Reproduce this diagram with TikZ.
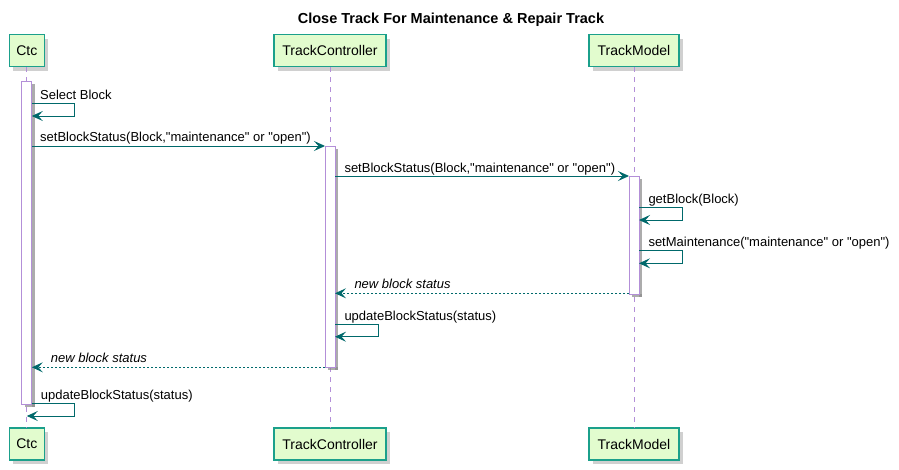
\documentclass[tikz,border=0pt]{standalone}
\usepackage{fontspec}
\setmainfont{Liberation Sans}[Ligatures=TeXOff]
\usetikzlibrary{arrows.meta,shadows}
\definecolor{boxfill}{HTML}{E2FCCE}
\definecolor{boxline}{HTML}{1BA08B}
\definecolor{arrowc}{HTML}{00696B}
\definecolor{lifec}{HTML}{B38FD8}
\definecolor{shadowc}{HTML}{8A8A8A}
\tikzset{
 pbox/.style={draw=boxline, line width=1.2pt, fill=boxfill, minimum height=32pt, inner sep=0pt,
   font=\fontsize{14}{16}\selectfont,
   drop shadow={shadow xshift=4pt, shadow yshift=-4pt, fill=shadowc, opacity=0.4}},
 life/.style={draw=lifec, line width=0.8pt, dash pattern=on 5pt off 5pt},
 actbar/.style={draw=lifec, line width=1pt, fill=white},
 actshadow/.style={fill=shadowc, opacity=0.7},
 msg/.style={draw=arrowc, line width=1pt, -{Stealth[length=11pt,width=10pt,inset=4.5pt]}},
 ret/.style={msg, dash pattern=on 2pt off 2pt},
 lbl/.style={anchor=base west, inner sep=0pt, font=\fontsize{13}{15}\selectfont},
 ilbl/.style={anchor=base west, inner sep=0pt, font=\fontsize{13}{15}\selectfont\itshape},
}
\begin{document}
\begin{tikzpicture}[x=1pt,y=-1pt]
\useasboundingbox[fill=white] (0,0) rectangle (899,469);
\node[font=\fontsize{14.5}{17}\selectfont\bfseries] (title) at (451,20) {Close Track For Maintenance \& Repair Track};

% participants
\node[pbox, minimum width=35pt] (ctcT) at (26.8,50.5) {Ctc};
\node[pbox, minimum width=112pt] (tcT) at (330,50.5) {TrackController};
\node[pbox, minimum width=90pt] (tmT) at (634,50.5) {TrackModel};
\node[pbox, minimum width=35pt] (ctcB) at (26.8,444) {Ctc};
\node[pbox, minimum width=112pt] (tcB) at (330,444) {TrackController};
\node[pbox, minimum width=90pt] (tmB) at (634,444) {TrackModel};

% lifelines
\draw[life] (ctcT.south) -- (ctcB.north);
\draw[life] (tcT.south) -- (tcB.north);
\draw[life] (tmT.south) -- (tmB.north);

% activations
\fill[actshadow] (31.8,84) rectangle (34.8,407);
\fill[actshadow] (24.8,404) rectangle (34.8,407);
\draw[actbar] (21.8,81) rectangle (31.8,404);
\fill[actshadow] (335,149) rectangle (338,370);
\fill[actshadow] (328,367) rectangle (338,370);
\draw[actbar] (325,146) rectangle (335,367);
\fill[actshadow] (639,179) rectangle (642,297);
\fill[actshadow] (632,294) rectangle (642,297);
\draw[actbar] (629,176) rectangle (639,294);

% coordinates
\coordinate (a1) at (31.8,103.3); \coordinate (b1) at (74.7,103.3);
\coordinate (c1) at (74.7,116);   \coordinate (d1) at (31.8,116);
\coordinate (a2) at (31.8,146);   \coordinate (b2) at (325,146);
\coordinate (a3) at (335,176);    \coordinate (b3) at (629,176);
\coordinate (a4) at (639,207.7);  \coordinate (b4) at (682.7,207.7);
\coordinate (c4) at (682.7,220);  \coordinate (d4) at (639,220);
\coordinate (a5) at (639,250.7);  \coordinate (b5) at (682.7,250.7);
\coordinate (c5) at (682.7,263.3);\coordinate (d5) at (639,263.3);
\coordinate (a6) at (629,293.3);  \coordinate (b6) at (335,293.3);
\coordinate (a7) at (335,324);    \coordinate (b7) at (378,324);
\coordinate (c7) at (378,336.7);  \coordinate (d7) at (335,336.7);
\coordinate (a8) at (325,367.3);  \coordinate (b8) at (31.8,367.3);
\coordinate (a9) at (31.8,403.3); \coordinate (b9) at (74.7,403.3);
\coordinate (c9) at (74.7,416);   \coordinate (d9) at (26.8,416);

% messages
\draw[msg] (a1) -- (b1) -- (c1) -- (d1);
\node[lbl] (l1) at (40,99.3) {Select Block};
\draw[msg] (a2) -- (b2);
\node[lbl] (l2) at (40,141) {setBlockStatus(Block,"maintenance" or "open")};
\draw[msg] (a3) -- (b3);
\node[lbl] (l3) at (344.3,172) {setBlockStatus(Block,"maintenance" or "open")};
\draw[msg] (a4) -- (b4) -- (c4) -- (d4);
\node[lbl] (l4) at (648.3,203.3) {getBlock(Block)};
\draw[msg] (a5) -- (b5) -- (c5) -- (d5);
\node[lbl] (l5) at (648.3,246.7) {setMaintenance("maintenance" or "open")};
\draw[ret] (a6) -- (b6);
\node[ilbl] (l6) at (354.3,288.7) {new block status};
\draw[msg] (a7) -- (b7) -- (c7) -- (d7);
\node[lbl] (l7) at (344.3,320) {updateBlockStatus(status)};
\draw[ret] (a8) -- (b8);
\node[ilbl] (l8) at (50.7,362.7) {new block status};
\draw[msg] (a9) -- (b9) -- (c9) -- (d9);
\node[lbl] (l9) at (40.7,399) {updateBlockStatus(status)};
\end{tikzpicture}
\end{document}
